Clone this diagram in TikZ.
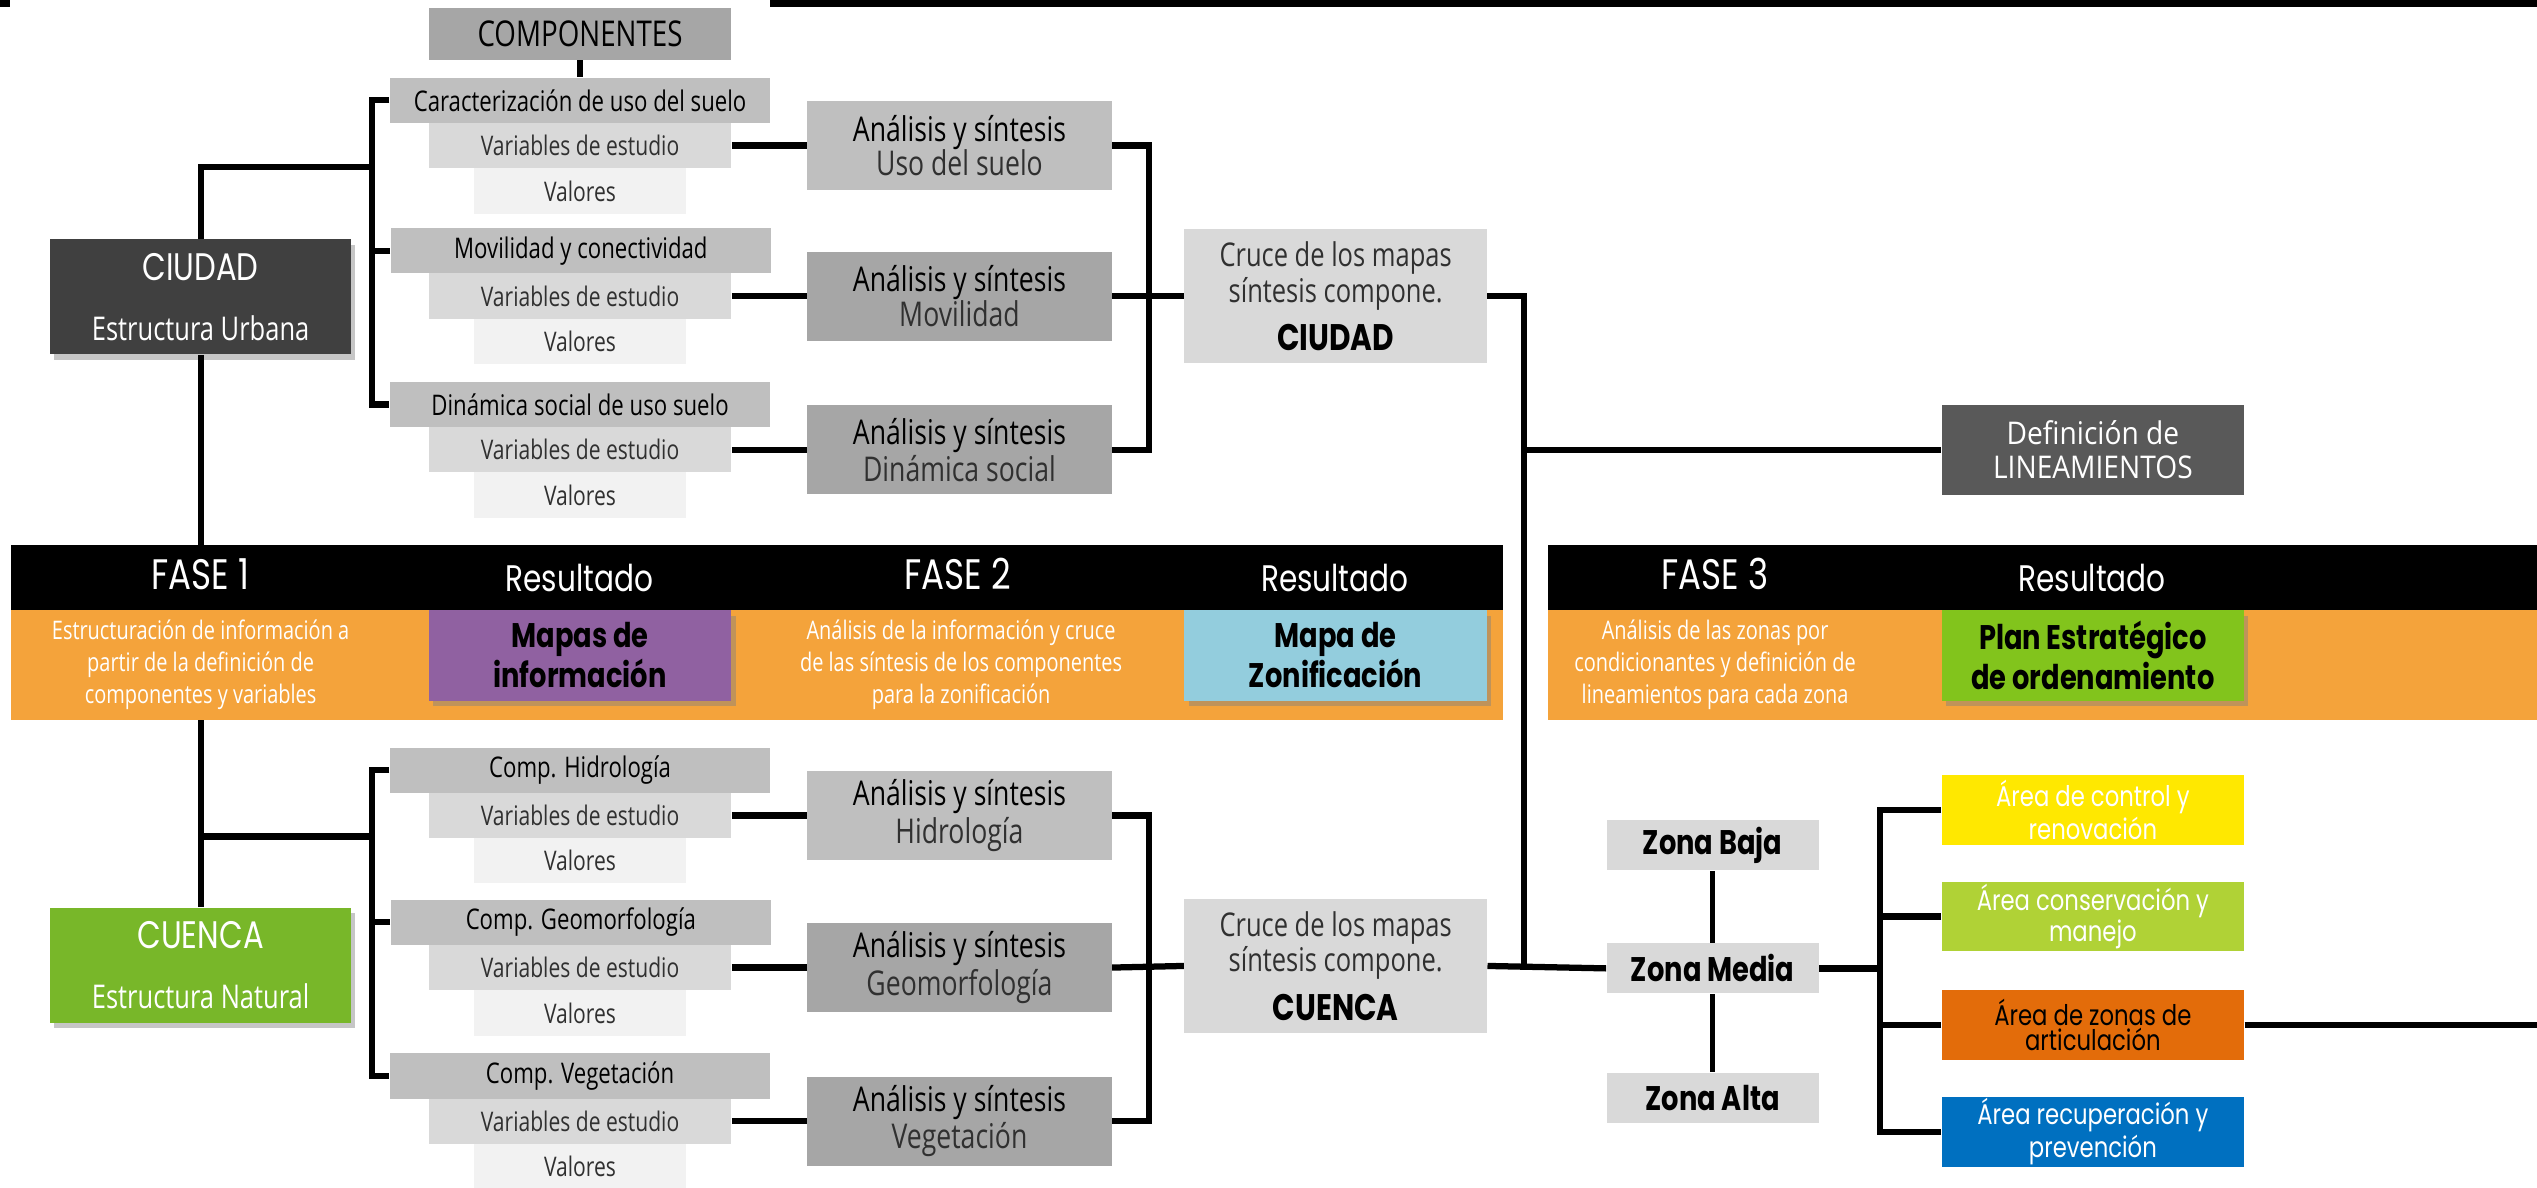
\documentclass[tikz,border=0pt]{standalone}
\usepackage{fontspec}
\setmainfont{Open Sans}[FakeStretch=0.78]
\newfontfamily\wide{Open Sans}[FakeStretch=0.9]
\newfontfamily\hand{Poppins}[FakeStretch=0.8]
\usetikzlibrary{shadows}
\definecolor{gBF}{HTML}{BFBFBF}
\definecolor{gA6}{HTML}{A6A6A6}
\definecolor{gD9}{HTML}{D9D9D9}
\definecolor{gF2}{HTML}{F2F2F2}
\definecolor{g40}{HTML}{404040}
\definecolor{g30}{HTML}{303030}
\definecolor{g59}{HTML}{595959}
\definecolor{band}{HTML}{F4A33B}
\definecolor{purp}{HTML}{9061A1}
\definecolor{lblue}{HTML}{93CDDD}
\definecolor{pgreen}{HTML}{82C41C}
\definecolor{cgreen}{HTML}{78B729}
\definecolor{ayellow}{HTML}{FFE800}
\definecolor{agreen}{HTML}{B0D236}
\definecolor{aorange}{HTML}{E36C0A}
\definecolor{ablue}{HTML}{0070C0}
\begin{document}
\begin{tikzpicture}[x=0.02cm,y=-0.02cm,
  box/.style={rectangle,inner sep=0pt,align=center},
  shad/.style={drop shadow={opacity=0.45,shadow xshift=1.5pt,shadow yshift=-2pt}},
  compbox/.style={box,fill=gBF,minimum width=4.7cm,minimum height=0.56cm,font=\fontsize{10}{11}\selectfont},
  varbox/.style={box,fill=gD9,minimum width=3.74cm,minimum height=0.56cm,text=g30,font=\fontsize{9.5}{11}\selectfont},
  valbox/.style={box,fill=gF2,minimum width=2.62cm,minimum height=0.56cm,text=g30,font=\fontsize{9.5}{11}\selectfont},
  anabox/.style={box,minimum width=3.76cm,minimum height=1.1cm,font=\fontsize{12}{12}\selectfont},
  crucebox/.style={box,fill=gD9,minimum width=3.74cm,minimum height=1.66cm,text=g30,font=\fontsize{11.5}{11.5}\selectfont},
  bigbox/.style={box,shad,minimum width=3.72cm,minimum height=1.42cm,text=white,font=\fontsize{11.5}{13}\selectfont},
  resbox/.style={box,shad,minimum width=3.74cm,minimum height=1.12cm,font=\hand\bfseries\fontsize{12}{14}\selectfont},
  zonabox/.style={box,fill=gD9,minimum width=2.62cm,minimum height=0.62cm,font=\hand\bfseries\fontsize{12}{14}\selectfont},
  areabox/.style={box,minimum width=3.74cm,minimum height=0.86cm,text=white,font=\hand\fontsize{10}{8.8}\selectfont},
  head/.style={text=white,font=\hand\fontsize{13}{14}\selectfont},
  fase/.style={text=white,font=\hand\fontsize{15}{16}\selectfont},
  bandtxt/.style={text=white,align=center,font=\fontsize{9}{11.3}\selectfont},
  conn/.style={line width=2.2pt}
]
\useasboundingbox (0,0) rectangle (1568,734);
% top bars
\fill (0,0) rectangle (6,4.3);
\fill (476,0) rectangle (1568,4.3);

% phase bars
\fill[black] (7,337) rectangle (929,377);
\fill[band] (7,377) rectangle (929,445);
\fill[black] (957,337) rectangle (1568,377);
\fill[band] (957,377) rectangle (1568,445);

\node[fase] (f1) at (124,355) {FASE 1};
\node[head] (r1) at (358,357) {Resultado};
\node[fase] (f2) at (592,355) {FASE 2};
\node[head] (r2) at (825,357) {Resultado};
\node[fase] (f3) at (1060,355) {FASE 3};
\node[head] (r3) at (1293,357) {Resultado};

\node[bandtxt] (t1) at (124,411) {Estructuración de información a\\partir de la definición de\\componentes y variables};
\node[bandtxt] (t2) at (594,411) {Análisis de la información y cruce\\de las síntesis de los componentes\\para la zonificación};
\node[bandtxt] (t3) at (1060,411) {Análisis de las zonas por\\condicionantes y definición de\\lineamientos para cada zona};

\node[resbox,fill=purp] (m1) at (358.5,405) {Mapas de\\información};
\node[resbox,fill=lblue] (m2) at (825.5,405) {Mapa de\\Zonificación};
\node[resbox,fill=pgreen] (m3) at (1293.5,405) {Plan Estratégico\\de ordenamiento};

% upper part
\node[box,fill=gA6,minimum width=3.74cm,minimum height=0.64cm,font=\fontsize{12.5}{13}\selectfont] (comp) at (358.5,21) {COMPONENTES};

\node[compbox] (c1) at (358.5,62) {Caracterización de uso del suelo};
\node[varbox] (v1) at (358.5,90) {Variables de estudio};
\node[valbox] (l1) at (358.5,118) {Valores};
\node[compbox] (c2) at (359,155) {Movilidad y conectividad};
\node[varbox] (v2) at (358.5,183) {Variables de estudio};
\node[valbox] (l2) at (358.5,211) {Valores};
\node[compbox] (c3) at (358.5,250) {Dinámica social de uso suelo};
\node[varbox] (v3) at (358.5,278) {Variables de estudio};
\node[valbox] (l3) at (358.5,306) {Valores};

\node[bigbox,fill=g40] (ciu) at (124,183.5) {{\hand\fontsize{13.5}{14}\selectfont CIUDAD}\\[8pt]Estructura Urbana};

\node[anabox,fill=gBF] (a1) at (593,90) {Análisis y síntesis\\{\color{g30}Uso del suelo}};
\node[anabox,fill=gA6] (a2) at (593,183) {Análisis y síntesis\\{\color{g30}Movilidad}};
\node[anabox,fill=gA6] (a3) at (593,278) {Análisis y síntesis\\{\color{g30}Dinámica social}};

\node[crucebox] (x1) at (825.5,183) {Cruce de los mapas\\síntesis compone.\\[4pt]{\color{black}\hand\bfseries\fontsize{13}{14}\selectfont CIUDAD}};

\node[box,fill=g59,minimum width=3.74cm,minimum height=1.12cm,text=white,font=\wide\fontsize{11}{12}\selectfont] (def) at (1293.5,278) {Definición de\\LINEAMIENTOS};

% lower part
\node[compbox] (c4) at (358.5,476) {Comp. Hidrología};
\node[varbox] (v4) at (358.5,504) {Variables de estudio};
\node[valbox] (l4) at (358.5,532) {Valores};
\node[compbox] (c5) at (359,570) {Comp. Geomorfología};
\node[varbox] (v5) at (358.5,598) {Variables de estudio};
\node[valbox] (l5) at (358.5,626) {Valores};
\node[compbox] (c6) at (358.5,665) {Comp. Vegetación};
\node[varbox] (v6) at (358.5,693) {Variables de estudio};
\node[valbox] (l6) at (358.5,721) {Valores};

\node[bigbox,fill=cgreen] (cue) at (124,596.5) {{\hand\fontsize{13.5}{14}\selectfont CUENCA}\\[8pt]Estructura Natural};

\node[anabox,fill=gBF] (a4) at (593,504) {Análisis y síntesis\\{\color{g30}Hidrología}};
\node[anabox,fill=gA6] (a5) at (593,598) {Análisis y síntesis\\{\color{g30}Geomorfología}};
\node[anabox,fill=gA6] (a6) at (593,693) {Análisis y síntesis\\{\color{g30}Vegetación}};

\node[crucebox] (x2) at (825.5,597) {Cruce de los mapas\\síntesis compone.\\[4pt]{\color{black}\hand\bfseries\fontsize{13}{14}\selectfont CUENCA}};

\node[zonabox] (zb) at (1058.5,522.5) {Zona Baja};
\node[zonabox] (zm) at (1058.5,598.5) {Zona Media};
\node[zonabox] (za) at (1058.5,678.5) {Zona Alta};

\node[areabox,fill=ayellow] (ar1) at (1293.5,500.5) {Área de control y\\renovación};
\node[areabox,fill=agreen] (ar2) at (1293.5,566.5) {Área conservación y\\manejo};
\node[areabox,fill=aorange,text=black] (ar3) at (1293.5,633.5) {Área de zonas de\\articulación};
\node[areabox,fill=ablue] (ar4) at (1293.5,699.5) {Área recuperación y\\prevención};

% helper coordinates
\coordinate (bxa) at (230,0);
\coordinate (bxb) at (710,0);
\coordinate (bxc) at (942,0);
\coordinate (bxd) at (1162,0);
\coordinate (hj1) at (124,103);
\coordinate (hj2) at (124,517);
\coordinate (fb) at (124,337);
\coordinate (ob) at (124,445);
\coordinate (redge) at (1568,633.5);

% connectors upper
\draw[conn] (comp.south) -- (c1.north);
\draw[conn] (ciu.north) -- (hj1) -- (hj1 -| bxa);
\draw[conn] (c1.west) -- (c1.west -| bxa) -- (c3.west -| bxa) -- (c3.west);
\draw[conn] (c2.west) -- (c2.west -| bxa);
\draw[conn] (ciu.south) -- (fb);
\draw[conn] (v1.east) -- (a1.west);
\draw[conn] (v2.east) -- (a2.west);
\draw[conn] (v3.east) -- (a3.west);
\draw[conn] (a1.east) -- (a1.east -| bxb) -- (a3.east -| bxb) -- (a3.east);
\draw[conn] (a2.east) -- (x1.west);
\draw[conn] (x1.east) -- (x1.east -| bxc) -- (zm.west -| bxc);
\draw[conn] (def.west -| bxc) -- (def.west);

% connectors lower
\draw[conn] (cue.north) -- (ob);
\draw[conn] (hj2) -- (hj2 -| bxa);
\draw[conn] (c4.west) -- (c4.west -| bxa) -- (c6.west -| bxa) -- (c6.west);
\draw[conn] (c5.west) -- (c5.west -| bxa);
\draw[conn] (v4.east) -- (a4.west);
\draw[conn] (v5.east) -- (a5.west);
\draw[conn] (v6.east) -- (a6.west);
\draw[conn] (a4.east) -- (a4.east -| bxb) -- (a6.east -| bxb) -- (a6.east);
\draw[conn] (a5.east) -- (x2.west);
\draw[conn] (x2.east) -- (zm.west);
\draw[conn,line width=1.8pt] (zb.south) -- (zm.north);
\draw[conn,line width=1.8pt] (zm.south) -- (za.north);
\draw[conn] (zm.east) -- (zm.east -| bxd);
\draw[conn] (ar1.west) -- (ar1.west -| bxd) -- (ar4.west -| bxd) -- (ar4.west);
\draw[conn] (ar2.west) -- (ar2.west -| bxd);
\draw[conn] (ar3.west) -- (ar3.west -| bxd);
\draw[conn] (ar3.east) -- (redge);
\end{tikzpicture}
\end{document}
